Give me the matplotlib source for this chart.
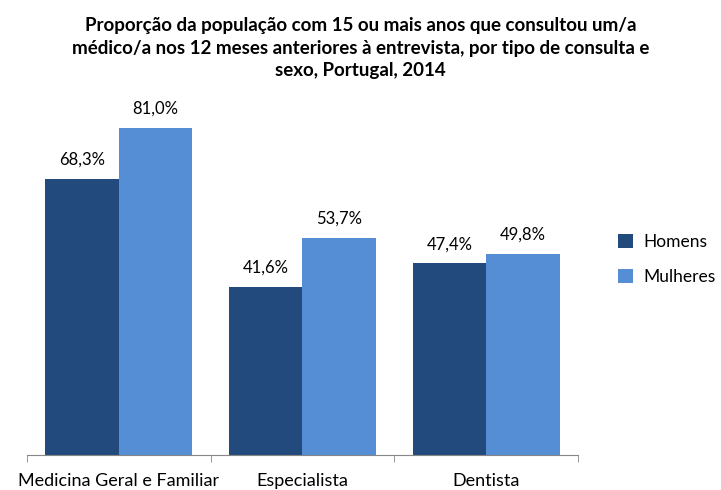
import matplotlib
matplotlib.use("Agg")
import matplotlib.pyplot as plt
import numpy as np

categories = ["Medicina Geral e Familiar", "Especialista", "Dentista"]
homens = [68.3, 41.6, 47.4]
mulheres = [81.0, 53.7, 49.8]
series_names = ["Homens", "Mulheres"]
colors = ["#234A7C", "#558ED5"]

plt.rcParams['font.family'] = ['Lato', 'DejaVu Sans']

fig = plt.figure(figsize=(7.21, 4.9), dpi=100)
ax = fig.add_axes([0.037, 0.0714, 0.765, 0.7426])

x = np.arange(len(categories))
w = 0.40
b1 = ax.bar(x - w/2, homens, w, color=colors[0], label=series_names[0])
b2 = ax.bar(x + w/2, mulheres, w, color=colors[1], label=series_names[1])

for bars, vals in ((b1, homens), (b2, mulheres)):
    for r, v in zip(bars, vals):
        ax.annotate(f"{v:.1f}%".replace(".", ","), (r.get_x() + r.get_width()/2, v),
                    xytext=(0, 8), textcoords="offset points", ha="center", va="bottom",
                    fontsize=12, color="#000000")

ax.set_xlim(-0.5, len(categories) - 0.5)
ax.set_ylim(0, 90)
ax.set_yticks([])
for s in ["top", "right", "left"]:
    ax.spines[s].set_visible(False)
ax.spines["bottom"].set_color("#868686")
ax.set_xticks(x)
ax.set_xticklabels(categories, fontsize=13)
ax.tick_params(axis="x", which="major", length=0, pad=13)
ax.set_xticks(np.arange(len(categories) + 1) - 0.5, minor=True)
ax.tick_params(axis="x", which="minor", length=5, color="#868686")

fig.legend(handles=[b1, b2], labels=series_names, loc="upper left",
           bbox_to_anchor=(0.835, 0.555), frameon=False, fontsize=12.5,
           handlelength=0.9, handleheight=0.9, labelspacing=1.1, handletextpad=0.6)

fig.text(0.5, 0.965, "Proporção da população com 15 ou mais anos que consultou um/a\n"
         "médico/a nos 12 meses anteriores à entrevista, por tipo de consulta e\n"
         "sexo, Portugal, 2014", ha="center", va="top", fontsize=13.5, fontweight="bold",
         linespacing=1.4)

fig.savefig("out.png", dpi=100)
